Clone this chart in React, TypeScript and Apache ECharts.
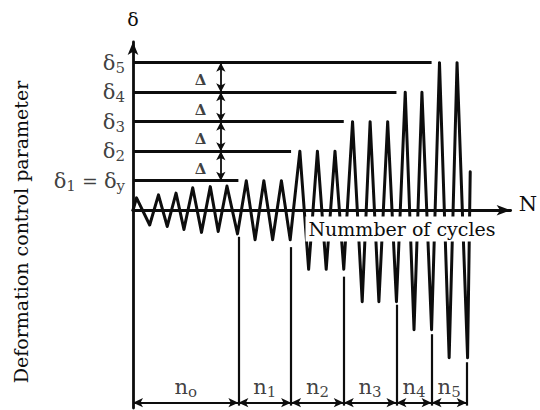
import React, { useEffect, useRef } from "react";
import * as echarts from "echarts";

const FONT = '"DejaVu Serif", "Liberation Serif", serif';
const INK = "#0d0d0d";

// δ levels (in units of δy) and the cycle where each reference line stops
const deltaLevels = [1, 2, 3, 4, 5];
const deltaSubs = ["1", "2", "3", "4", "5"];
const deltaLineEnds = [6, 9, 12, 15, 17];
const deltaArrowX = 5;
const deltaMarkX = 3.85;

// phase boundaries (cycle number) and labels
const phaseBounds = [0, 6, 9, 12, 15, 17, 19];
const phaseSubs = ["o", "1", "2", "3", "4", "5"];
const boundaryTops = [-0.9, -1.25, -2.25, -3.2, -4.2, -5.15];
const bottomY = -6.62;
const dimY = -6.52;
const phaseLabelY = -6.0;

// turning points of the loading history
const waveX = [
  0, 0.2, 0.95, 1.45, 1.95, 2.45, 2.9, 3.4, 3.9, 4.4, 4.85, 5.35, 5.95,
  6.45, 6.95, 7.45, 7.95, 8.45, 8.95,
  9.5, 10, 10.5, 11, 11.5, 12,
  12.5, 13.05, 13.5, 14, 14.5, 15,
  15.5, 16, 16.45, 17,
  17.45, 18, 18.45, 19.05,
  19.2,
];
const waveY = [
  0, 0.42, -0.5, 0.52, -0.55, 0.58, -0.65, 0.76, -0.75, 0.8, -0.72, 0.82, -0.8,
  1, -1, 1, -1, 1, -1,
  2, -2, 2, -2, 2, -2,
  3, -3.1, 3, -3.1, 3, -3.1,
  4, -4.05, 4, -4.05,
  5, -5, 5, -5,
  1.3,
];

const markSeries = (pairs: number[][][], symbol: string[], symbolSize: number[], width: number) => ({
  type: "line",
  data: [],
  silent: true,
  markLine: {
    silent: true,
    symbol,
    symbolSize,
    label: { show: false },
    emphasis: { disabled: true },
    lineStyle: { color: INK, width, type: "solid" },
    data: pairs.map(([a, b]) => [{ coord: a }, { coord: b }]),
  },
});

export default function App() {
  const ref = useRef<HTMLDivElement>(null);

  useEffect(() => {
    document.body.style.margin = "0";
    const chart = echarts.init(ref.current as HTMLDivElement, null, { renderer: "svg" });

    const deltaLinePairs = deltaLevels.map((d, i) => [[0, d], [deltaLineEnds[i], d]]);
    const deltaArrowPairs = deltaLevels.slice(0, -1).map((d, i) => [[deltaArrowX, d], [deltaArrowX, deltaLevels[i + 1]]]);
    const boundaryPairs = phaseBounds.slice(1).map((b, i) => [[b, boundaryTops[i]], [b, bottomY]]);
    const dimPairs = phaseBounds.slice(0, -1).map((b, i) => [[b, dimY], [phaseBounds[i + 1], dimY]]);

    const richBase = {
      d: { fontFamily: FONT, fontSize: 21, color: INK },
      s: { fontFamily: FONT, fontSize: 15, color: INK, padding: [10, 0, 0, 0] },
      e: { fontFamily: FONT, fontSize: 19, color: INK },
    };

    const option: any = {
      animation: false,
      backgroundColor: "#ffffff",
      grid: { left: 133, right: 22, top: 42, bottom: 2 },
      xAxis: {
        type: "value",
        min: 0,
        max: 21.5,
        axisLine: {
          onZero: true,
          lineStyle: { color: INK, width: 2.8 },
          symbol: ["none", "arrow"],
          symbolSize: [8, 14],
        },
        axisTick: { show: false },
        axisLabel: { show: false },
        splitLine: { show: false },
        name: "N",
        nameLocation: "end",
        nameGap: 8,
        nameTextStyle: { fontFamily: FONT, fontSize: 21, color: INK, verticalAlign: "bottom", padding: [0, 0, -4, 0] },
      },
      yAxis: {
        type: "value",
        min: -6.7,
        max: 5.7,
        axisLine: {
          show: true,
          lineStyle: { color: INK, width: 2.8 },
          symbol: ["none", "arrow"],
          symbolSize: [8, 13],
        },
        axisTick: { show: false },
        axisLabel: { show: false },
        splitLine: { show: false },
        name: "δ",
        nameLocation: "end",
        nameGap: 14,
        nameTextStyle: { fontFamily: FONT, fontSize: 19, color: INK },
      },
      graphic: [
        {
          type: "text",
          x: 21,
          y: 232,
          rotation: Math.PI / 2,
          z: 100,
          style: {
            text: "Deformation control parameter",
            font: `19px ${FONT}`,
            fill: INK,
            textAlign: "center",
            textVerticalAlign: "middle",
            align: "center",
            verticalAlign: "middle",
          },
        },
        {
          type: "text",
          x: 402,
          y: 229,
          z: 100,
          style: {
            text: "Nummber of cycles",
            font: `19px ${FONT}`,
            fill: INK,
            textAlign: "center",
            textVerticalAlign: "middle",
            align: "center",
            verticalAlign: "middle",
            backgroundColor: "#ffffff",
            padding: [3, 3, 3, 3],
          },
        },
      ],
      series: [
        markSeries(deltaLinePairs, ["none", "none"], [1, 1], 2.8),
        markSeries(deltaArrowPairs, ["arrow", "arrow"], [7, 9], 1.8),
        markSeries(boundaryPairs, ["none", "none"], [1, 1], 2.2),
        markSeries(dimPairs, ["arrow", "arrow"], [7, 10], 1.8),
        {
          type: "line",
          data: waveX.map((x, i) => [x, waveY[i]]),
          symbol: "none",
          silent: true,
          z: 3,
          lineStyle: { color: INK, width: 3, join: "round", cap: "round" },
        },
        {
          type: "scatter",
          silent: true,
          symbolSize: 0,
          z: 5,
          data: deltaLevels.map((d) => [0, d]),
          label: {
            show: true,
            position: "left",
            distance: 8,
            color: INK,
            formatter: (p: any) =>
              p.dataIndex === 0
                ? `{d|δ}{s|${deltaSubs[0]}}{e| = }{d|δ}{s|y}`
                : `{d|δ}{s|${deltaSubs[p.dataIndex]}}`,
            rich: richBase,
          },
        },
        {
          type: "scatter",
          silent: true,
          symbolSize: 0,
          z: 5,
          data: deltaLevels.slice(0, -1).map((d, i) => [deltaMarkX, (d + deltaLevels[i + 1]) / 2 - 0.1]),
          label: {
            show: true,
            position: "inside",
            formatter: "Δ",
            fontFamily: FONT,
            fontSize: 15,
            fontWeight: "bold",
            color: INK,
          },
        },
        {
          type: "scatter",
          silent: true,
          symbolSize: 0,
          z: 5,
          data: phaseBounds.slice(0, -1).map((b, i) => [(b + phaseBounds[i + 1]) / 2, phaseLabelY]),
          label: {
            show: true,
            position: "inside",
            color: INK,
            formatter: (p: any) => `{n|n}{s|${phaseSubs[p.dataIndex]}}`,
            rich: {
              n: { fontFamily: FONT, fontSize: 21, color: INK },
              s: { fontFamily: FONT, fontSize: 15, color: INK, padding: [10, 0, 0, 0] },
            },
          },
        },
      ],
    };

    chart.setOption(option);
    return () => chart.dispose();
  }, []);

  return <div ref={ref} style={{ width: 540, height: 410, background: "#fff" }} />;
}
